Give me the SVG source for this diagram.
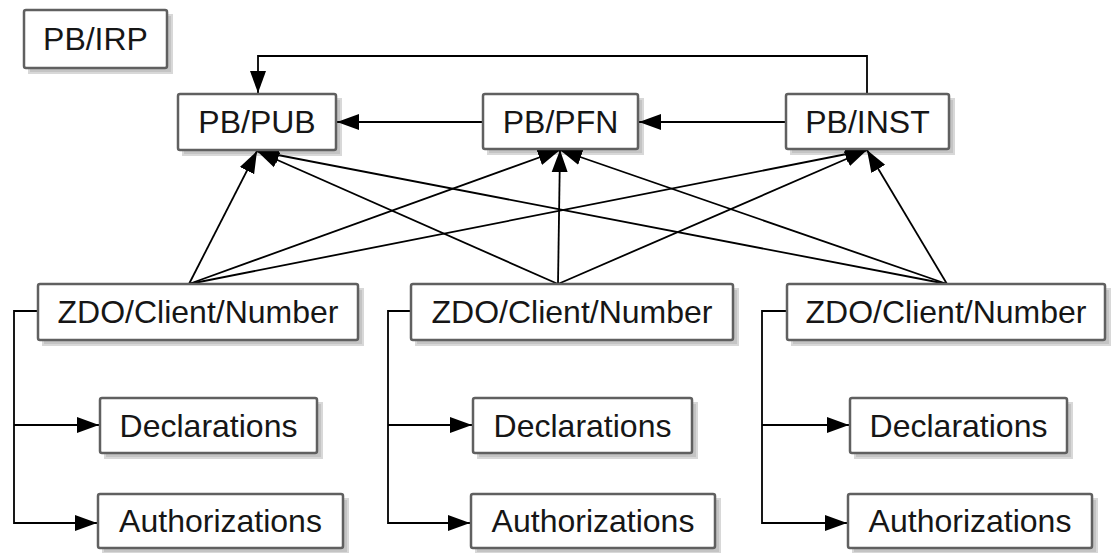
<svg xmlns="http://www.w3.org/2000/svg" width="1111" height="553" viewBox="0 0 1111 553">
<style>
.box{fill:#fff;stroke:#606060;stroke-width:2.5}
.t{font-family:"Liberation Sans",Arial,sans-serif;font-size:32px;fill:#161616;text-anchor:middle}
.c{fill:none;stroke:#000;stroke-width:1.8}
</style>
<defs>
<marker id="ar" markerUnits="userSpaceOnUse" markerWidth="24" markerHeight="18" refX="22" refY="9" orient="auto"><path d="M0,1 L22,9 L0,17 z" fill="#000"/></marker>
</defs>
<rect width="1111" height="553" fill="#fff"/>
<g id="shadows" fill="#c4c4c4" stroke="#d8d8d8" stroke-width="2">
<rect x="29" y="15" width="143" height="58"/>
<rect x="183" y="99" width="158" height="56"/>
<rect x="488" y="99" width="155" height="55"/>
<rect x="791" y="99" width="163" height="55"/>
<rect x="43" y="289" width="320" height="56"/>
<rect x="416" y="289" width="322" height="56"/>
<rect x="792" y="289" width="318" height="56"/>
<rect x="105" y="403" width="217" height="55"/>
<rect x="103" y="499" width="245" height="54"/>
<rect x="478" y="403" width="219" height="55"/>
<rect x="476" y="499" width="244" height="54"/>
<rect x="855" y="403" width="217" height="55"/>
<rect x="853" y="499" width="244" height="54"/>
</g>
<g id="connectors">
<path class="c" d="M867,94 V56 H258 V93" marker-end="url(#ar)"/>
<path class="c" d="M786,122 H639" marker-end="url(#ar)"/>
<path class="c" d="M483,122 H337" marker-end="url(#ar)"/>
<path class="c" d="M189,284 L257,151" marker-end="url(#ar)"/>
<path class="c" d="M189,284 L560,150" marker-end="url(#ar)"/>
<path class="c" d="M189,284 L867,150" marker-end="url(#ar)"/>
<path class="c" d="M558,284 L257,151" marker-end="url(#ar)"/>
<path class="c" d="M558,284 L560,150" marker-end="url(#ar)"/>
<path class="c" d="M558,284 L867,150" marker-end="url(#ar)"/>
<path class="c" d="M947,284 L257,151" marker-end="url(#ar)"/>
<path class="c" d="M947,284 L560,150" marker-end="url(#ar)"/>
<path class="c" d="M947,284 L867,150" marker-end="url(#ar)"/>
<path class="c" d="M38,311 H14 V523 H97" marker-end="url(#ar)"/>
<path class="c" d="M14,425 H99" marker-end="url(#ar)"/>
<path class="c" d="M411,311 H388 V523 H470" marker-end="url(#ar)"/>
<path class="c" d="M388,425 H472" marker-end="url(#ar)"/>
<path class="c" d="M787,311 H762 V523 H847" marker-end="url(#ar)"/>
<path class="c" d="M762,425 H849" marker-end="url(#ar)"/>
</g>
<g id="pb-irp"><rect class="box" x="24" y="10" width="143" height="58" rx="2"/><text class="t" x="95.5" y="50">PB/IRP</text></g>
<g id="pb-pub"><rect class="box" x="178" y="94" width="158" height="56" rx="2"/><text class="t" x="257" y="133">PB/PUB</text></g>
<g id="pb-pfn"><rect class="box" x="483" y="94" width="155" height="55" rx="2"/><text class="t" x="560.5" y="133">PB/PFN</text></g>
<g id="pb-inst"><rect class="box" x="786" y="94" width="163" height="55" rx="2"/><text class="t" x="867.5" y="133">PB/INST</text></g>
<g id="zdo-1"><rect class="box" x="38" y="284" width="320" height="56" rx="2"/><text class="t" x="198" y="323">ZDO/Client/Number</text></g>
<g id="zdo-2"><rect class="box" x="411" y="284" width="322" height="56" rx="2"/><text class="t" x="572" y="323">ZDO/Client/Number</text></g>
<g id="zdo-3"><rect class="box" x="787" y="284" width="318" height="56" rx="2"/><text class="t" x="946" y="323">ZDO/Client/Number</text></g>
<g id="decl-1"><rect class="box" x="100" y="398" width="217" height="55" rx="2"/><text class="t" x="208.5" y="437">Declarations</text></g>
<g id="auth-1"><rect class="box" x="98" y="494" width="245" height="54" rx="2"/><text class="t" x="220.5" y="532">Authorizations</text></g>
<g id="decl-2"><rect class="box" x="473" y="398" width="219" height="55" rx="2"/><text class="t" x="582.5" y="437">Declarations</text></g>
<g id="auth-2"><rect class="box" x="471" y="494" width="244" height="54" rx="2"/><text class="t" x="593" y="532">Authorizations</text></g>
<g id="decl-3"><rect class="box" x="850" y="398" width="217" height="55" rx="2"/><text class="t" x="958.5" y="437">Declarations</text></g>
<g id="auth-3"><rect class="box" x="848" y="494" width="244" height="54" rx="2"/><text class="t" x="970" y="532">Authorizations</text></g>
</svg>
